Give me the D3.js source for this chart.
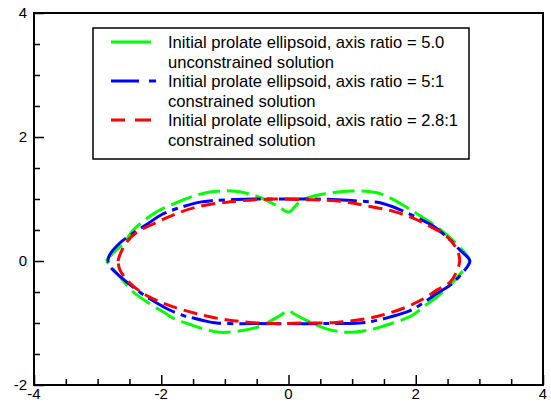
<!DOCTYPE html>
<html>
<head>
<meta charset="utf-8">
<script src="https://cdn.jsdelivr.net/npm/d3@7"></script>
<style>
  body { margin: 0; background: #fff; }
  svg { display: block; font-family: "Liberation Sans", Arial, sans-serif; }
</style>
</head>
<body>
<svg width="551" height="408"></svg>
<script>
// shape outlines, [x, y], traced round the closed curve
const unconstrained50 = [
  [-2.86, 0], [-2.83, 0.05], [-2.57, 0.31], [-2.44, 0.50], [-2.10, 0.776], [-1.76, 0.94],
  [-1.42, 1.07], [-1.18, 1.12], [-0.87, 1.13], [-0.50, 1.045], [-0.16, 0.88], [0.0, 0.79],
  [0.18, 0.96], [0.39, 1.045], [0.63, 1.09], [0.97, 1.13], [1.39, 1.10], [1.65, 0.99],
  [1.96, 0.80], [2.25, 0.61], [2.49, 0.42], [2.65, 0.26], [2.85, 0.0],
  [2.75, -0.146], [2.54, -0.39], [2.33, -0.58], [2.12, -0.74], [1.94, -0.88], [1.73, -0.97],
  [1.52, -1.04], [1.28, -1.11], [0.92, -1.15], [0.60, -1.095], [0.29, -0.96], [0.09, -0.855],
  [0.0, -0.80], [-0.13, -0.88], [-0.34, -1.00], [-0.50, -1.07], [-0.77, -1.13], [-1.08, -1.15],
  [-1.34, -1.095], [-1.58, -1.01], [-1.76, -0.95], [-1.97, -0.82], [-2.18, -0.69],
  [-2.44, -0.50], [-2.65, -0.255], [-2.86, 0]
];
const constrained51 = [
  [-2.84, 0], [-2.81, 0.10], [-2.65, 0.29], [-2.44, 0.45], [-2.20, 0.61], [-1.99, 0.75],
  [-1.71, 0.86], [-1.39, 0.95], [-1.18, 0.975], [-0.87, 0.99], [-0.55, 1.00], [0.02, 1.00],
  [0.39, 1.00], [0.92, 0.98], [1.26, 0.955], [1.44, 0.94], [1.75, 0.83], [2.04, 0.69],
  [2.28, 0.56], [2.54, 0.34], [2.69, 0.18], [2.85, 0.0],
  [2.75, -0.17], [2.54, -0.39], [2.33, -0.525], [2.14, -0.66], [1.91, -0.80], [1.59, -0.905],
  [1.31, -0.975], [1.12, -1.00], [0.55, -1.01], [0.02, -1.01], [-0.50, -1.01], [-1.13, -1.00],
  [-1.34, -0.96], [-1.55, -0.905], [-1.65, -0.88], [-1.91, -0.77], [-2.18, -0.61],
  [-2.34, -0.50], [-2.54, -0.34], [-2.78, -0.12], [-2.84, 0]
];
const constrained281 = [
  [-2.68, 0], [-2.65, 0.10], [-2.54, 0.31], [-2.36, 0.48], [-2.15, 0.585], [-1.91, 0.70],
  [-1.71, 0.785], [-1.44, 0.87], [-1.13, 0.93], [-0.81, 0.965], [-0.50, 0.99], [-0.19, 1.00],
  [0.23, 0.99], [0.60, 0.98], [0.92, 0.95], [1.28, 0.88], [1.65, 0.80], [1.96, 0.69],
  [2.22, 0.56], [2.49, 0.395], [2.65, 0.18], [2.69, 0.0],
  [2.65, -0.15], [2.54, -0.34], [2.33, -0.47], [2.12, -0.61], [1.86, -0.74], [1.55, -0.85],
  [1.23, -0.93], [0.76, -0.99], [0.23, -1.00], [-0.19, -1.01], [-0.61, -0.99], [-1.03, -0.94],
  [-1.44, -0.85], [-1.81, -0.74], [-2.07, -0.635], [-2.28, -0.525], [-2.49, -0.36],
  [-2.65, -0.145], [-2.68, 0]
];
const legendLabels = [
  ['Initial prolate ellipsoid, axis ratio = 5.0', 'unconstrained solution'],
  ['Initial prolate ellipsoid, axis ratio = 5:1', 'constrained solution'],
  ['Initial prolate ellipsoid, axis ratio = 2.8:1', 'constrained solution']
];
const xTicks = [-4, -2, 0, 2, 4];
const yTicks = [-2, 0, 2, 4];

const series = [
  { data: unconstrained50, color: '#00ff00', dash: '22,7', legendDash: null, legendLen: 40 },
  { data: constrained51, color: '#0000ff', dash: '30,6,6,6', legendDash: '28,10,7,10', legendLen: 45 },
  { data: constrained281, color: '#ff0000', dash: '14,7', legendDash: '14,10,16,10', legendLen: 40 }
];

const svg = d3.select('svg');
const x = d3.scaleLinear().domain([-4, 4]).range([34, 543]);
const y = d3.scaleLinear().domain([-2, 4]).range([385, 13]);

const line = d3.line()
  .curve(d3.curveCatmullRom.alpha(0.5))
  .x(d => x(d[0]))
  .y(d => y(d[1]));

svg.selectAll('.shape')
  .data(series)
  .enter().append('path')
  .attr('class', 'shape')
  .attr('d', d => line(d.data))
  .attr('fill', 'none')
  .attr('stroke', d => d.color)
  .attr('stroke-width', 3)
  .attr('stroke-dasharray', d => d.dash);

// axes: ticks point inward, minor every 0.5
const xAxis = d3.axisBottom(x).tickValues(d3.range(-4, 4.01, 0.5))
  .tickSize(-6).tickFormat('');
const yAxis = d3.axisLeft(y).tickValues(d3.range(-2, 4.01, 0.5))
  .tickSize(-6).tickFormat('');

const gx = svg.append('g').attr('transform', 'translate(0,' + y(-2) + ')').call(xAxis);
const gy = svg.append('g').attr('transform', 'translate(' + x(-4) + ',0)').call(yAxis);
gx.selectAll('.tick line').filter(d => d % 2 === 0).attr('y2', -10);
gy.selectAll('.tick line').filter(d => d % 2 === 0).attr('x2', 10);
[gx, gy].forEach(g => {
  g.select('.domain').remove();
  g.selectAll('.tick line').attr('stroke', '#000').attr('stroke-width', 1.5);
});

svg.append('rect')
  .attr('x', x(-4)).attr('y', y(4))
  .attr('width', x(4) - x(-4)).attr('height', y(-2) - y(4))
  .attr('fill', 'none').attr('stroke', '#000').attr('stroke-width', 2);

svg.selectAll('.xlab').data(xTicks).enter().append('text')
  .attr('x', d => x(d)).attr('y', 399)
  .attr('text-anchor', 'middle').style('font-size', '15px')
  .text(d => d);
svg.selectAll('.ylab').data(yTicks).enter().append('text')
  .attr('x', x(-4) - 7).attr('y', d => y(d) + 5)
  .attr('text-anchor', 'end').style('font-size', '15px')
  .text(d => d);

// legend
const lg = svg.append('g').attr('transform', 'translate(93,28)');
lg.append('rect').attr('width', 376).attr('height', 131)
  .attr('fill', '#fff').attr('stroke', '#000').attr('stroke-width', 1.5);
series.forEach((s, i) => {
  const yy = 14 + i * 39;
  lg.append('line')
    .attr('x1', 18).attr('x2', 18 + s.legendLen).attr('y1', yy).attr('y2', yy)
    .attr('stroke', s.color).attr('stroke-width', 3)
    .attr('stroke-dasharray', s.legendDash);
  legendLabels[i].forEach((t, j) => {
    lg.append('text')
      .attr('x', 75).attr('y', yy + 6 + j * 19.6)
      .style('font-size', '16.6px')
      .text(t);
  });
});
</script>
</body>
</html>
